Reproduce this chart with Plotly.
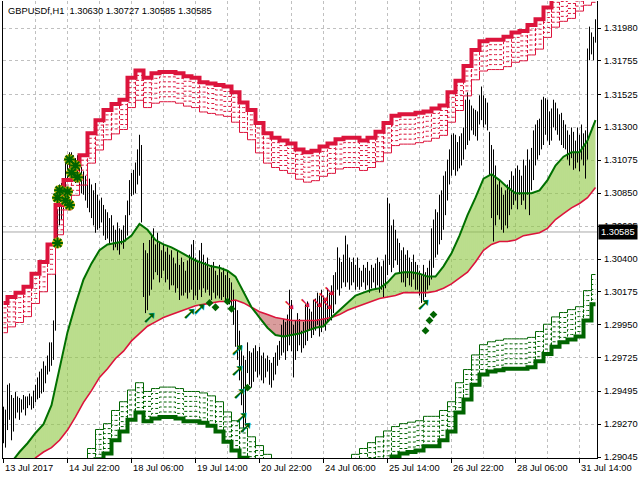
import plotly.graph_objects as go

# ---------------- data ----------------
symbol = "GBPUSDf,H1"
title_ohlc = [1.30630, 1.30727, 1.30585, 1.30585]
last_price = 1.30585

date_labels = ["13 Jul 2017", "14 Jul 22:00", "18 Jul 06:00", "19 Jul 14:00", "20 Jul 22:00",
               "24 Jul 06:00", "25 Jul 14:00", "26 Jul 22:00", "28 Jul 06:00", "31 Jul 14:00"]
date_label_bars = [0, 32, 64, 96, 128, 160, 192, 224, 256, 288]
price_ticks = [1.31980, 1.31755, 1.31525, 1.31300, 1.31075, 1.30850, 1.30625,
               1.30400, 1.30175, 1.29950, 1.29725, 1.29495, 1.29270, 1.29045]

# H1 bars: high / low of each bar (297 bars)
bar_high = [
    1.2939, 1.2937, 1.2954, 1.2955, 1.2947, 1.2945, 1.2949, 1.2946, 1.2945, 1.2944,
    1.2947, 1.2946, 1.2946, 1.2948, 1.2946, 1.2950, 1.2954, 1.2959, 1.2963, 1.2965,
    1.2970, 1.2967, 1.2974, 1.2983, 1.2983, 1.2998, 1.3051, 1.3074, 1.3091, 1.3092,
    1.3094, 1.3108, 1.3111, 1.3113, 1.3113, 1.3111, 1.3109, 1.3111, 1.3104, 1.3103,
    1.3100, 1.3097, 1.3094, 1.3095, 1.3091, 1.3087, 1.3092, 1.3084, 1.3080, 1.3082,
    1.3077, 1.3074, 1.3072, 1.3068, 1.3070, 1.3063, 1.3060, 1.3065, 1.3061, 1.3060,
    1.3063, 1.3070, 1.3080, 1.3094, 1.3099, 1.3101, 1.3106, 1.3115, 1.3125, 1.3118,
    1.3051, 1.3046, 1.3044, 1.3053, 1.3056, 1.3061, 1.3050, 1.3058, 1.3051, 1.3046,
    1.3050, 1.3045, 1.3048, 1.3043, 1.3046, 1.3041, 1.3037, 1.3046, 1.3036, 1.3041,
    1.3038, 1.3032, 1.3039, 1.3043, 1.3050, 1.3053, 1.3041, 1.3038, 1.3046, 1.3051,
    1.3043, 1.3038, 1.3041, 1.3034, 1.3036, 1.3038, 1.3032, 1.3029, 1.3036, 1.3031,
    1.3034, 1.3029, 1.3032, 1.3027, 1.3024, 1.3019, 1.3012, 1.3005, 1.2991, 1.2981,
    1.2974, 1.2971, 1.2983, 1.2977, 1.2976, 1.2979, 1.2981, 1.2977, 1.2980, 1.2974,
    1.2976, 1.2972, 1.2974, 1.2971, 1.2969, 1.2973, 1.2976, 1.2981, 1.2984, 1.2995,
    1.2999, 1.2997, 1.3002, 1.3019, 1.3012, 1.2995, 1.2998, 1.3003, 1.2999, 1.2991,
    1.2997, 1.3009, 1.3011, 1.3006, 1.3004, 1.3012, 1.3013, 1.3017, 1.3015, 1.3019,
    1.3015, 1.3012, 1.3020, 1.3017, 1.3022, 1.3029, 1.3031, 1.3048, 1.3041, 1.3038,
    1.3043, 1.3056, 1.3050, 1.3041, 1.3038, 1.3041, 1.3036, 1.3041, 1.3034, 1.3032,
    1.3036, 1.3034, 1.3038, 1.3032, 1.3036, 1.3034, 1.3037, 1.3041, 1.3038, 1.3035,
    1.3039, 1.3043, 1.3082, 1.3078, 1.3063, 1.3067, 1.3060, 1.3054, 1.3051, 1.3046,
    1.3048, 1.3043, 1.3046, 1.3041, 1.3038, 1.3043, 1.3038, 1.3036, 1.3032, 1.3029,
    1.3036, 1.3031, 1.3034, 1.3039, 1.3061, 1.3067, 1.3074, 1.3072, 1.3084, 1.3087,
    1.3097, 1.3100, 1.3108, 1.3115, 1.3125, 1.3126, 1.3125, 1.3120, 1.3124, 1.3126,
    1.3130, 1.3149, 1.3154, 1.3149, 1.3145, 1.3143, 1.3142, 1.3141, 1.3152, 1.3158,
    1.3152, 1.3150, 1.3147, 1.3127, 1.3118, 1.3115, 1.3104, 1.3091, 1.3094, 1.3089,
    1.3084, 1.3087, 1.3091, 1.3094, 1.3100, 1.3097, 1.3102, 1.3104, 1.3101, 1.3097,
    1.3108, 1.3104, 1.3115, 1.3108, 1.3116, 1.3128, 1.3132, 1.3135, 1.3136, 1.3149,
    1.3151, 1.3150, 1.3149, 1.3141, 1.3143, 1.3149, 1.3147, 1.3143, 1.3139, 1.3140,
    1.3135, 1.3132, 1.3128, 1.3125, 1.3130, 1.3127, 1.3121, 1.3130, 1.3125, 1.3132,
    1.3126, 1.3128, 1.3184, 1.3199, 1.3195, 1.3192, 1.3204,
]
bar_low = [
    1.2914, 1.2911, 1.2923, 1.2930, 1.2916, 1.2922, 1.2931, 1.2935, 1.2930, 1.2935,
    1.2937, 1.2933, 1.2938, 1.2940, 1.2937, 1.2938, 1.2942, 1.2944, 1.2945, 1.2948,
    1.2949, 1.2955, 1.2961, 1.2963, 1.2967, 1.2971, 1.2991, 1.3048, 1.3063, 1.3067,
    1.3074, 1.3086, 1.3094, 1.3097, 1.3101, 1.3095, 1.3092, 1.3097, 1.3087, 1.3085,
    1.3084, 1.3080, 1.3075, 1.3072, 1.3068, 1.3063, 1.3058, 1.3060, 1.3061, 1.3065,
    1.3056, 1.3053, 1.3054, 1.3050, 1.3052, 1.3046, 1.3048, 1.3046, 1.3043, 1.3050,
    1.3047, 1.3052, 1.3056, 1.3070, 1.3083, 1.3084, 1.3085, 1.3091, 1.3097, 1.3065,
    1.3014, 1.3003, 1.3005, 1.3015, 1.3019, 1.3026, 1.3031, 1.3029, 1.3024, 1.3027,
    1.3032, 1.3024, 1.3026, 1.3019, 1.3022, 1.3022, 1.3017, 1.3020, 1.3012, 1.3015,
    1.3015, 1.3017, 1.3013, 1.3017, 1.3019, 1.3012, 1.3015, 1.3012, 1.3019, 1.3014,
    1.3020, 1.3017, 1.3019, 1.3015, 1.3012, 1.3017, 1.3013, 1.3015, 1.3013, 1.3012,
    1.3014, 1.3011, 1.3013, 1.3009, 1.3005, 1.2995, 1.2980, 1.2971, 1.2957, 1.2940,
    1.2922, 1.2926, 1.2962, 1.2954, 1.2952, 1.2956, 1.2963, 1.2959, 1.2961, 1.2957,
    1.2955, 1.2959, 1.2963, 1.2954, 1.2952, 1.2957, 1.2961, 1.2967, 1.2971, 1.2974,
    1.2976, 1.2971, 1.2977, 1.2981, 1.2977, 1.2959, 1.2971, 1.2977, 1.2981, 1.2976,
    1.2979, 1.2981, 1.2984, 1.2991, 1.2986, 1.2988, 1.2991, 1.2995, 1.2987, 1.2990,
    1.2995, 1.2991, 1.2997, 1.2999, 1.2998, 1.3003, 1.3009, 1.3019, 1.3015, 1.3020,
    1.3024, 1.3021, 1.3024, 1.3019, 1.3022, 1.3024, 1.3019, 1.3021, 1.3019, 1.3021,
    1.3024, 1.3019, 1.3022, 1.3017, 1.3020, 1.3024, 1.3020, 1.3022, 1.3017, 1.3019,
    1.3014, 1.3020, 1.3029, 1.3036, 1.3031, 1.3034, 1.3039, 1.3036, 1.3031, 1.3024,
    1.3024, 1.3021, 1.3027, 1.3022, 1.3021, 1.3026, 1.3019, 1.3019, 1.3015, 1.3010,
    1.3012, 1.3014, 1.3019, 1.3022, 1.3026, 1.3034, 1.3041, 1.3043, 1.3050, 1.3053,
    1.3060, 1.3070, 1.3080, 1.3091, 1.3097, 1.3101, 1.3097, 1.3100, 1.3102, 1.3104,
    1.3108, 1.3115, 1.3118, 1.3121, 1.3128, 1.3125, 1.3124, 1.3121, 1.3132, 1.3135,
    1.3130, 1.3132, 1.3128, 1.3097, 1.3068, 1.3052, 1.3063, 1.3070, 1.3067, 1.3060,
    1.3058, 1.3063, 1.3061, 1.3070, 1.3074, 1.3077, 1.3080, 1.3074, 1.3084, 1.3077,
    1.3080, 1.3074, 1.3084, 1.3070, 1.3087, 1.3094, 1.3104, 1.3108, 1.3111, 1.3115,
    1.3118, 1.3125, 1.3121, 1.3118, 1.3121, 1.3130, 1.3128, 1.3125, 1.3121, 1.3118,
    1.3116, 1.3115, 1.3108, 1.3104, 1.3109, 1.3101, 1.3102, 1.3106, 1.3100, 1.3108,
    1.3104, 1.3095, 1.3108, 1.3176, 1.3180, 1.3176, 1.3188,
]

# indicator lines, one value every 4 bars (75 samples)
sample_step = 4
green_ma = [
    1.2897, 1.2901, 1.2908, 1.2914, 1.2921, 1.2927, 1.2940, 1.2965, 1.2990, 1.3009,
    1.3026, 1.3037, 1.3046, 1.3050, 1.3051, 1.3052, 1.3056, 1.3064, 1.3060, 1.3053,
    1.3050, 1.3048, 1.3045, 1.3042, 1.3039, 1.3037, 1.3035, 1.3034, 1.3032, 1.3028,
    1.3017, 1.3007, 1.3000, 1.2993, 1.2988, 1.2987, 1.2988, 1.2989, 1.2991, 1.2993,
    1.2994, 1.3000, 1.3005, 1.3010, 1.3015, 1.3017, 1.3019, 1.3020, 1.3024, 1.3030,
    1.3031, 1.3031, 1.3030, 1.3028, 1.3028, 1.3035, 1.3044, 1.3056, 1.3070, 1.3082,
    1.3095, 1.3098, 1.3094, 1.3089, 1.3085, 1.3085, 1.3085, 1.3087, 1.3094, 1.3104,
    1.3110, 1.3113, 1.3113, 1.3121, 1.3135,
]
red_ma = [
    1.2882, 1.2885, 1.2890, 1.2896, 1.2904, 1.2908, 1.2911, 1.2916, 1.2923, 1.2932,
    1.2942, 1.2950, 1.2959, 1.2965, 1.2972, 1.2977, 1.2984, 1.2989, 1.2994, 1.2997,
    1.3000, 1.3002, 1.3004, 1.3006, 1.3008, 1.3009, 1.3010, 1.3011, 1.3011, 1.3012,
    1.3010, 1.3007, 1.3004, 1.3002, 1.3000, 1.2999, 1.2998, 1.2998, 1.2998, 1.2998,
    1.2999, 1.3000, 1.3002, 1.3005, 1.3007, 1.3009, 1.3011, 1.3013, 1.3014, 1.3015,
    1.3017, 1.3017, 1.3017, 1.3017, 1.3018, 1.3020, 1.3023, 1.3027, 1.3031, 1.3038,
    1.3046, 1.3050, 1.3052, 1.3052, 1.3053, 1.3056, 1.3057, 1.3058, 1.3061, 1.3067,
    1.3071, 1.3075, 1.3078, 1.3082, 1.3089,
]
upper_band = [
    1.3010, 1.3014, 1.3017, 1.3021, 1.3030, 1.3038, 1.3050, 1.3077, 1.3094, 1.3104,
    1.3111, 1.3126, 1.3135, 1.3142, 1.3146, 1.3149, 1.3164, 1.3169, 1.3164, 1.3167,
    1.3168, 1.3168, 1.3167, 1.3165, 1.3164, 1.3161, 1.3160, 1.3159, 1.3158, 1.3154,
    1.3147, 1.3142, 1.3133, 1.3126, 1.3123, 1.3121, 1.3119, 1.3115, 1.3113, 1.3114,
    1.3117, 1.3119, 1.3122, 1.3123, 1.3123, 1.3121, 1.3123, 1.3127, 1.3133, 1.3138,
    1.3139, 1.3139, 1.3140, 1.3141, 1.3143, 1.3145, 1.3154, 1.3162, 1.3172, 1.3183,
    1.3189, 1.3190, 1.3190, 1.3192, 1.3195, 1.3196, 1.3200, 1.3204, 1.3212, 1.3219,
    1.3223, 1.3225, 1.3230, 1.3234, 1.3236,
]
lower_band = [
    1.2862, 1.2862, 1.2863, 1.2865, 1.2867, 1.2868, 1.2870, 1.2872, 1.2874, 1.2877,
    1.2881, 1.2890, 1.2903, 1.2907, 1.2916, 1.2922, 1.2930, 1.2935, 1.2929, 1.2931,
    1.2932, 1.2932, 1.2931, 1.2929, 1.2929, 1.2928, 1.2926, 1.2922, 1.2915, 1.2909,
    1.2904, 1.2898, 1.2892, 1.2886, 1.2882, 1.2879, 1.2878, 1.2877, 1.2877, 1.2878,
    1.2879, 1.2879, 1.2881, 1.2883, 1.2886, 1.2890, 1.2894, 1.2898, 1.2902, 1.2905,
    1.2907, 1.2908, 1.2909, 1.2912, 1.2912, 1.2916, 1.2922, 1.2935, 1.2944, 1.2954,
    1.2961, 1.2963, 1.2964, 1.2965, 1.2965, 1.2965, 1.2966, 1.2970, 1.2975, 1.2980,
    1.2983, 1.2985, 1.2987, 1.2998, 1.3009,
]
band_level_step = 0.00034          # distance between band levels
band_levels = [1, 2, 3, 4, 5]      # dashed inner levels; level 6 = thin edge
band_edge_level = 6
# sample indices where the two averages cross (fill colour changes)
cross_samples = [31, 41]

star_bars = [33, 36, 34, 37, 28, 32, 27, 31, 33, 27]
star_prices = [1.3108, 1.3104, 1.3099, 1.3096, 1.3087, 1.3086, 1.3082, 1.3080, 1.3077, 1.3051]
up_arrow_bars = [117, 117, 118, 119, 121, 73, 93, 98, 210]
up_arrow_prices = [1.2977, 1.2963, 1.2947, 1.2931, 1.2924, 1.2999, 1.3002, 1.3005, 1.3008]
down_arrow_bars = [143, 151, 157, 160, 163, 162]
down_arrow_prices = [1.3008, 1.3009, 1.3009, 1.3013, 1.3017, 1.3008]
dot_bars = [103, 106, 112, 114, 122, 211, 213, 215]
dot_prices = [1.3010, 1.3007, 1.3011, 1.3006, 1.2952, 1.2991, 1.2998, 1.3002]

# ---------------- styles ----------------
FONT = "Liberation Sans, Arial, sans-serif"
FSIZE = 9.3
CRIMSON = "#DC143C"
DKGREEN = "#006400"
MAGREEN = "#007000"
GRID = "#C0C0C0"

n_bars = len(bar_high)
sx = [k * sample_step for k in range(len(green_ma))]

fig = go.Figure()

# hatched fill between the two averages
segments = [(0, cross_samples[0], "#8CC63F"),
            (cross_samples[0], cross_samples[1], "#C05A5A"),
            (cross_samples[1], len(green_ma) - 1, "#8CC63F")]
for a, b, col in segments:
    fig.add_trace(go.Scatter(x=sx[a:b + 1], y=red_ma[a:b + 1], mode="lines",
                             line=dict(width=0, color=col), hoverinfo="skip", showlegend=False))
    fig.add_trace(go.Scatter(x=sx[a:b + 1], y=green_ma[a:b + 1], mode="lines", fill="tonexty",
                             fillcolor="rgba(0,0,0,0)",
                             fillpattern=dict(shape="|", size=2, solidity=0.6, fgcolor=col,
                                              bgcolor="rgba(0,0,0,0)", fillmode="replace"),
                             line=dict(width=0, color=col), hoverinfo="skip", showlegend=False))

# price bars (high-low)
bx, by = [], []
for i in range(n_bars):
    bx += [i, i, None]
    by += [bar_low[i], bar_high[i], None]
fig.add_trace(go.Scatter(x=bx, y=by, mode="lines", line=dict(color="black", width=1),
                         hoverinfo="skip", showlegend=False))

# averages
fig.add_trace(go.Scatter(x=sx, y=red_ma, mode="lines", line=dict(color=CRIMSON, width=1.6),
                         showlegend=False))
fig.add_trace(go.Scatter(x=sx, y=green_ma, mode="lines", line=dict(color=MAGREEN, width=2),
                         showlegend=False))

# envelope bands
for base, sign, col in [(upper_band, -1, CRIMSON), (lower_band, 1, DKGREEN)]:
    for lv in band_levels:
        fig.add_trace(go.Scatter(x=sx, y=[v + sign * lv * band_level_step for v in base],
                                 mode="lines", line=dict(color=col, width=1, dash="3px,2px", shape="hvh"),
                                 showlegend=False))
    fig.add_trace(go.Scatter(x=sx, y=[v + sign * band_edge_level * band_level_step for v in base],
                             mode="lines", line=dict(color=col, width=1, shape="hvh"), showlegend=False))
    fig.add_trace(go.Scatter(x=sx, y=base, mode="lines", line=dict(color=col, width=4, shape="hvh"),
                             showlegend=False))

# signal markers
fig.add_trace(go.Scatter(x=star_bars, y=star_prices, mode="markers",
                         marker=dict(symbol="asterisk-open", size=9, color="#C8B400",
                                     line=dict(color="#C8B400", width=3.5)),
                         showlegend=False))
fig.add_trace(go.Scatter(x=star_bars, y=star_prices, mode="markers",
                         marker=dict(symbol="asterisk-open", size=9, color=DKGREEN,
                                     line=dict(color=DKGREEN, width=2)),
                         showlegend=False))
fig.add_trace(go.Scatter(x=up_arrow_bars, y=up_arrow_prices, mode="text", text=["➚"] * len(up_arrow_bars),
                         textfont=dict(color="#00B8D0", size=18, family="DejaVu Sans"), showlegend=False))
fig.add_trace(go.Scatter(x=up_arrow_bars, y=up_arrow_prices, mode="text", text=["➚"] * len(up_arrow_bars),
                         textfont=dict(color=DKGREEN, size=17, family="DejaVu Sans"), showlegend=False))
fig.add_trace(go.Scatter(x=down_arrow_bars, y=down_arrow_prices, mode="text",
                         text=["➘"] * len(down_arrow_bars),
                         textfont=dict(color=CRIMSON, size=15, family="DejaVu Sans"), showlegend=False))
fig.add_trace(go.Scatter(x=dot_bars, y=dot_prices, mode="markers",
                         marker=dict(symbol="diamond", size=6, color=DKGREEN), showlegend=False))

# current price line
fig.add_shape(type="line", xref="paper", x0=0, x1=1, y0=last_price, y1=last_price,
              line=dict(color="#A8A8A8", width=1), layer="below")

# price scale labels (right side)
for v in price_ticks:
    fig.add_annotation(xref="paper", x=1, y=v, yref="y", xanchor="left", yanchor="middle",
                       showarrow=False, text=f"{v:.5f}", xshift=5,
                       font=dict(color="black", size=FSIZE, family=FONT))
fig.add_annotation(xref="paper", x=1, y=last_price, yref="y", xanchor="left", yanchor="middle",
                   showarrow=False, text=f"{last_price:.5f}", bgcolor="black",
                   font=dict(color="white", size=FSIZE, family=FONT), borderpad=2, xshift=1)

# title
fig.add_annotation(xref="paper", yref="paper", x=0, y=1, xanchor="left", yanchor="top", showarrow=False,
                   xshift=3, yshift=-3,
                   text=symbol + "\u00a0\u00a0" + " ".join(f"{v:.5f}" for v in title_ohlc),
                   font=dict(color="black", size=FSIZE, family=FONT))

# date labels (left aligned at their tick)
for b, lab in zip(date_label_bars, date_labels):
    fig.add_annotation(x=b, xref="x", y=0, yref="paper", yanchor="top", xanchor="left", showarrow=False,
                       text=lab, font=dict(color="black", size=FSIZE, family=FONT), yshift=-3, xshift=-1)

fig.update_layout(
    width=640, height=480, margin=dict(l=3, r=43, t=1, b=22, autoexpand=False),
    paper_bgcolor="white", plot_bgcolor="white", showlegend=False,
    xaxis=dict(range=[-0.25, n_bars - 0.25], tickvals=date_label_bars, showticklabels=False,
               automargin=False,
               ticks="outside", ticklen=4, tickcolor="black", showgrid=True, gridcolor=GRID,
               griddash="3px,3px", zeroline=False, showline=True, linecolor="black", linewidth=1,
               minor=dict(dtick=16, tick0=0, showgrid=True, gridcolor=GRID, griddash="3px,3px", ticks="")),
    yaxis=dict(range=[1.29039, 1.32165], side="right", tickvals=price_ticks, showticklabels=False,
               automargin=False, ticks="outside", ticklen=3, tickcolor="black",
               showgrid=True, gridcolor=GRID,
               griddash="3px,3px", zeroline=False, showline=True, mirror=True, linecolor="black",
               linewidth=1),
)

fig.write_html("out.html", config={"displayModeBar": False},
               post_script="document.body.style.margin='0';document.body.style.overflow='hidden';")
